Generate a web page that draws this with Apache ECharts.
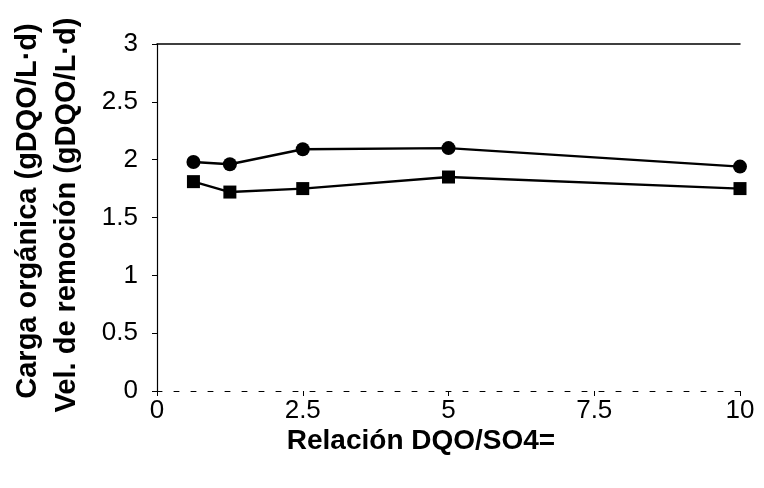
<!DOCTYPE html>
<html>
<head>
<meta charset="utf-8">
<script src="https://cdn.jsdelivr.net/npm/echarts@6/dist/echarts.min.js"></script>
<style>html,body{margin:0;padding:0;background:#fff;}#c{width:764px;height:488px;}</style>
</head>
<body>
<div id="c"></div>
<script>
var ratios = [0.625, 1.25, 2.5, 5, 10];
var cargaOrganica = [1.98, 1.96, 2.09, 2.10, 1.94];
var velRemocion = [1.81, 1.72, 1.75, 1.85, 1.75];
var xTitle = 'Relación DQO/SO4=';
var yTitle1 = 'Carga orgánica (gDQO/L·d)';
var yTitle2 = 'Vel. de remoción (gDQO/L·d)';

function pairs(xs, ys){ return xs.map(function(x,i){ return [x, ys[i]]; }); }

var chart = echarts.init(document.getElementById('c'), null, {renderer:'canvas'});
var FONT = '"Liberation Sans", Arial, sans-serif';
chart.setOption({
  animation: false,
  backgroundColor: '#fff',
  textStyle: {fontFamily: FONT},
  grid: {left:157, right:24, top:44, bottom:97, containLabel:false},
  xAxis: [{
    type:'value', min:0, max:10, interval:2.5, position:'bottom',
    axisLine:{show:true, lineStyle:{color:'#000', width:1, type:[5,12]}},
    axisTick:{show:true, length:5, lineStyle:{color:'#000'}},
    axisLabel:{color:'#000', fontFamily:FONT, fontSize:26, margin:7},
    splitLine:{show:false}
  },{
    type:'value', min:0, max:10, position:'top',
    axisLine:{show:true, onZero:false, lineStyle:{color:'#000', width:1.5}},
    axisTick:{show:false}, axisLabel:{show:false}, splitLine:{show:false}
  }],
  yAxis: {
    type:'value', min:0, max:3, interval:0.5,
    axisLine:{show:true, lineStyle:{color:'#000', width:1.2}},
    axisTick:{show:true, length:5, lineStyle:{color:'#000'}},
    axisLabel:{color:'#000', fontFamily:FONT, fontSize:26, margin:19},
    splitLine:{show:false}
  },
  series: [{
    type:'line', name:yTitle1, data:pairs(ratios, cargaOrganica),
    symbol:'circle', symbolSize:14,
    lineStyle:{color:'#000', width:2.4}, itemStyle:{color:'#000'}
  },{
    type:'line', name:yTitle2, data:pairs(ratios, velRemocion),
    symbol:'rect', symbolSize:13,
    lineStyle:{color:'#000', width:2.4}, itemStyle:{color:'#000'}
  }],
  graphic: [{
    type:'text', x:421, y:441,
    style:{text:xTitle, font:'bold 28px '+FONT, fill:'#000', textAlign:'center', textVerticalAlign:'middle', align:'center', verticalAlign:'middle'}
  },{
    type:'text', x:28, y:211, rotation:Math.PI/2,
    style:{text:yTitle1, font:'bold 29px '+FONT, fill:'#000', textAlign:'center', textVerticalAlign:'middle', align:'center', verticalAlign:'middle'}
  },{
    type:'text', x:67, y:215, rotation:Math.PI/2,
    style:{text:yTitle2, font:'bold 29px '+FONT, fill:'#000', textAlign:'center', textVerticalAlign:'middle', align:'center', verticalAlign:'middle'}
  }]
});
</script>
</body>
</html>
